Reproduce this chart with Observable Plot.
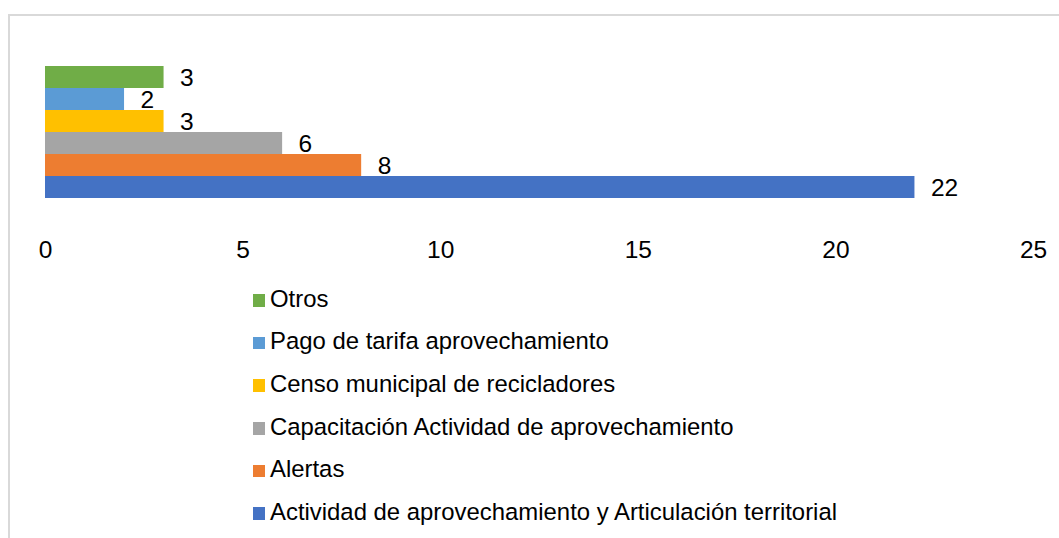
<!DOCTYPE html>
<html>
<head>
<meta charset="utf-8">
<script src="https://cdn.jsdelivr.net/npm/d3@7"></script>
<script src="https://cdn.jsdelivr.net/npm/@observablehq/plot@0.6"></script>
<style>
  html, body { margin: 0; padding: 0; overflow: hidden; background: #fff; width: 1059px; height: 538px; }
  #frame { position: absolute; left: 8px; top: 14px; width: 1200px; height: 700px; border: 2px solid #d9d9d9; box-sizing: border-box; }
  #chart { position: absolute; left: 0; top: 0; }
  #legend { position: absolute; left: 0; top: 0; font-family: "Liberation Sans", Arial, sans-serif; font-size: 23.9px; color: #000; }
  .row { position: absolute; left: 252.5px; line-height: 23.9px; white-space: nowrap; }
  .sw { display: inline-block; width: 12.5px; height: 12.5px; margin-right: 5px; vertical-align: baseline; }
</style>
</head>
<body>
<div id="frame"></div>
<div id="chart"></div>
<div id="legend"></div>
<script>
const categories = [
  "Otros",
  "Pago de tarifa aprovechamiento",
  "Censo municipal de recicladores",
  "Capacitación Actividad de aprovechamiento",
  "Alertas",
  "Actividad de aprovechamiento y Articulación territorial"
];
const values = [3, 2, 3, 6, 8, 22];
const colors = ["#70AD47", "#5B9BD5", "#FFC000", "#A5A5A5", "#ED7D31", "#4472C4"];
const xTicks = [0, 5, 10, 15, 20, 25];

const data = categories.map((c, i) => ({category: c, value: values[i], color: colors[i]}));

const chart = Plot.plot({
  width: 1059,
  height: 270,
  marginLeft: 45,
  marginRight: 26,
  marginTop: 64,
  marginBottom: 70,
  style: {fontFamily: "Liberation Sans, Arial, sans-serif", fontSize: "24.5px", color: "#000", background: "transparent", overflow: "visible"},
  x: {domain: [0, 25]},
  y: {domain: categories, padding: 0, axis: null},
  marks: [
    Plot.barX(data, {x: "value", y: "category", fill: "color"}),
    Plot.text(data, {x: "value", y: "category", text: d => String(d.value), textAnchor: "start", dx: 16, dy: 1, fontSize: 24.5, fill: "#000"}),
    Plot.axisX({ticks: xTicks, tickSize: 0, tickPadding: 40, fontSize: 24.5, fill: "#000", label: null, anchor: "bottom"})
  ]
});
document.getElementById("chart").appendChild(chart);

const legend = document.getElementById("legend");
const fs = 23.9;
const baseline0 = 307;
const step = 42.6;
categories.forEach((c, i) => {
  const row = document.createElement("div");
  row.className = "row";
  row.style.top = (baseline0 + i * step - 0.8465 * fs) + "px";
  const sw = document.createElement("span");
  sw.className = "sw";
  sw.style.background = colors[i];
  row.appendChild(sw);
  row.appendChild(document.createTextNode(c));
  legend.appendChild(row);
});
</script>
</body>
</html>
